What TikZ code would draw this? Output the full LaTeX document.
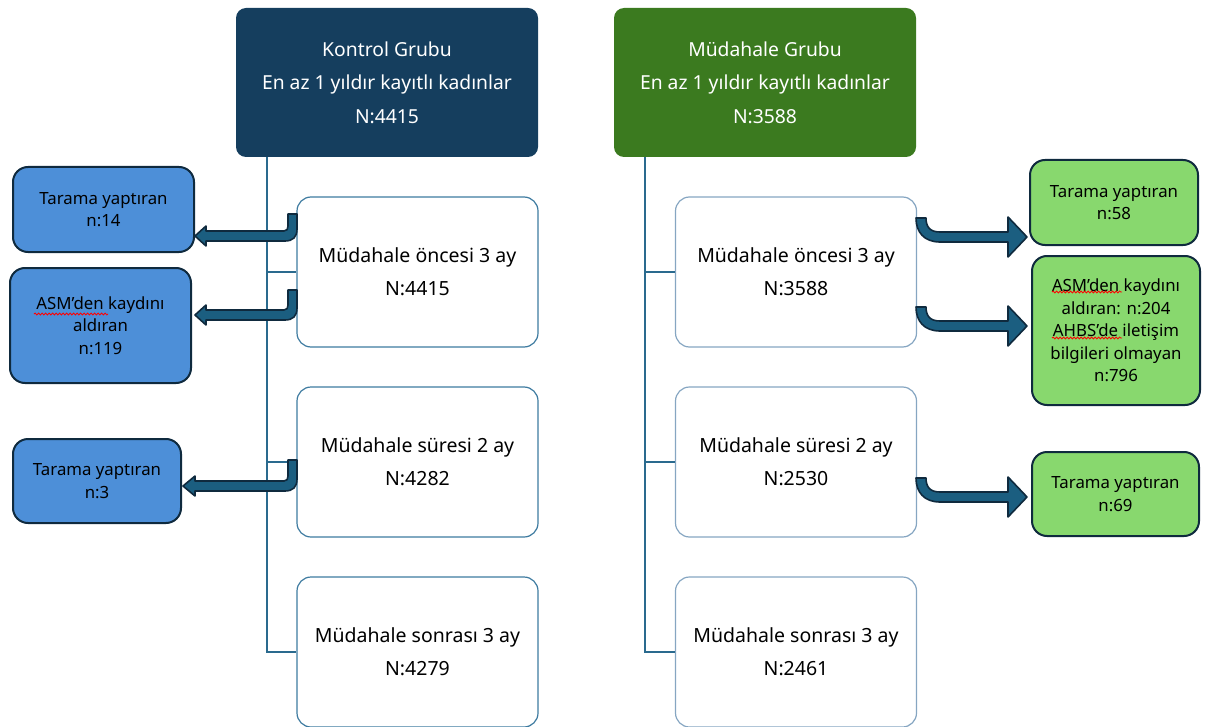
\documentclass[tikz,border=0pt]{standalone}
\usepackage{fontspec}
\setmainfont{Noto Sans}
\usetikzlibrary{decorations.pathmorphing}
\definecolor{navy}{HTML}{153E5E}
\definecolor{dgreen}{HTML}{3B7A1F}
\definecolor{lblue}{HTML}{4D8FD8}
\definecolor{lgreen}{HTML}{88D86E}
\definecolor{edgedark}{HTML}{0F2A3E}
\definecolor{teal}{HTML}{1B5E80}
\definecolor{linec}{HTML}{2A6A8E}
\definecolor{wbl}{HTML}{3E7BA0}
\definecolor{wbr}{HTML}{86A6C2}
\tikzset{
  hdr/.style={rectangle, rounded corners=10pt, draw=none, text=white, align=center,
    minimum width=302pt, minimum height=149pt, font=\fontsize{19.3}{33.5}\selectfont},
  wbox/.style={rectangle, rounded corners=14pt, fill=white, line width=1.2pt, align=center,
    minimum width=241pt, minimum height=150pt, font=\fontsize{19.5}{33}\selectfont},
  sbox/.style={rectangle, rounded corners=15pt, draw=edgedark, line width=2pt, align=center,
    font=\fontsize{16.8}{22.5}\selectfont},
  branch/.style={draw=linec, line width=1.6pt},
  bent/.style={fill=teal, draw=edgedark, line width=1.6pt, line join=round},
  squig/.style={draw=red, line width=0.8pt, decorate, decoration={snake, segment length=3.5pt, amplitude=1pt}}
}
\begin{document}
\begin{tikzpicture}[x=1pt,y=-1pt]
\useasboundingbox (0,0) rectangle (1214,727);
% headers
\node[hdr, fill=navy] (kg) at (387,82.5) {Kontrol Grubu\\En az 1 yıldır kayıtlı kadınlar\\N:4415};
\node[hdr, fill=dgreen] (mg) at (765,82.5) {Müdahale Grubu\\En az 1 yıldır kayıtlı kadınlar\\N:3588};
% left white boxes
\node[wbox, draw=wbl] (l1) at (417.5,272) {Müdahale öncesi 3 ay\\N:4415};
\node[wbox, draw=wbl] (l2) at (417.5,462) {Müdahale süresi 2 ay\\N:4282};
\node[wbox, draw=wbl] (l3) at (417.5,652) {Müdahale sonrası 3 ay\\N:4279};
% right white boxes
\node[wbox, draw=wbr] (r1) at (796,272) {Müdahale öncesi 3 ay\\N:3588};
\node[wbox, draw=wbr] (r2) at (796,462) {Müdahale süresi 2 ay\\N:2530};
\node[wbox, draw=wbr] (r3) at (796,652) {Müdahale sonrası 3 ay\\N:2461};
% trunk lines
\coordinate (kt) at (267,157);
\coordinate (mt) at (645,157);
\draw[branch] (kt) |- (l3.west);
\draw[branch] (kt |- l1.west) -- (l1.west);
\draw[branch] (kt |- l2.west) -- (l2.west);
\draw[branch] (mt) |- (r3.west);
\draw[branch] (mt |- r1.west) -- (r1.west);
\draw[branch] (mt |- r2.west) -- (r2.west);
% small left boxes
\node[sbox, fill=lblue, minimum width=181pt, minimum height=85pt] (a1) at (103.5,209.5) {Tarama yaptıran\\n:14};
\node[sbox, fill=lblue, minimum width=181pt, minimum height=115pt] (a2) at (100.5,325.5) {ASM’den kaydını\\aldıran\\n:119};
\node[sbox, fill=lblue, minimum width=168pt, minimum height=84pt] (a3) at (97,481) {Tarama yaptıran\\n:3};
% small right boxes
\node[sbox, fill=lgreen, minimum width=168pt, minimum height=85pt] (b1) at (1114,202.5) {Tarama yaptıran\\n:58};
\node[sbox, fill=lgreen, minimum width=168pt, minimum height=149pt] (b2) at (1116,330.5) {ASM’den kaydını\\aldıran: n:204\\AHBS’de iletişim\\bilgileri olmayan\\n:796};
\node[sbox, fill=lgreen, minimum width=167pt, minimum height=84pt] (b3) at (1115.5,494) {Tarama yaptıran\\n:69};
% left bent arrows
\filldraw[bent] (297,214) -- (297,229) .. controls (297,237) and (293,241) .. (285,241) -- (206,241) -- (206,246) -- (195,236) -- (206,226) -- (206,231) -- (284,231) .. controls (287,231) and (288,229) .. (288,226) -- (288,214) -- cycle;
\filldraw[bent] (297,290) -- (297,308) .. controls (297,316) and (293,320) .. (285,320) -- (206,320) -- (206,325) -- (195,315) -- (206,305) -- (206,310) -- (284,310) .. controls (287,310) and (288,308) .. (288,305) -- (288,290) -- cycle;
\filldraw[bent] (297,460) -- (297,479) .. controls (297,487) and (293,491) .. (285,491) -- (195,491) -- (195,496) -- (183,486) -- (195,476) -- (195,481) -- (284,481) .. controls (287,481) and (288,479) .. (288,476) -- (288,460) -- cycle;
% right bent arrows
\filldraw[bent] (916,218) -- (926,218) .. controls (926,227) and (930,232) .. (940,232) -- (1008,232) -- (1008,217) -- (1027,237) -- (1008,257) -- (1008,242) -- (940,242) .. controls (924,242) and (916,232) .. (916,218) -- cycle;
\filldraw[bent] (916,307) -- (926,307) .. controls (926,316) and (930,321) .. (940,321) -- (1008,321) -- (1008,306) -- (1027,326) -- (1008,346) -- (1008,331) -- (940,331) .. controls (924,331) and (916,321) .. (916,307) -- cycle;
\filldraw[bent] (916,478) -- (926,478) .. controls (926,487) and (930,492) .. (940,492) -- (1008,492) -- (1008,477) -- (1027,497) -- (1008,517) -- (1008,502) -- (940,502) .. controls (924,502) and (916,492) .. (916,478) -- cycle;
% spell-check underlines
\draw[squig] (34,314) -- (108,314);
\draw[squig] (1052,292) -- (1122,292);
\draw[squig] (1052,338) -- (1122,338);
\end{tikzpicture}
\end{document}
